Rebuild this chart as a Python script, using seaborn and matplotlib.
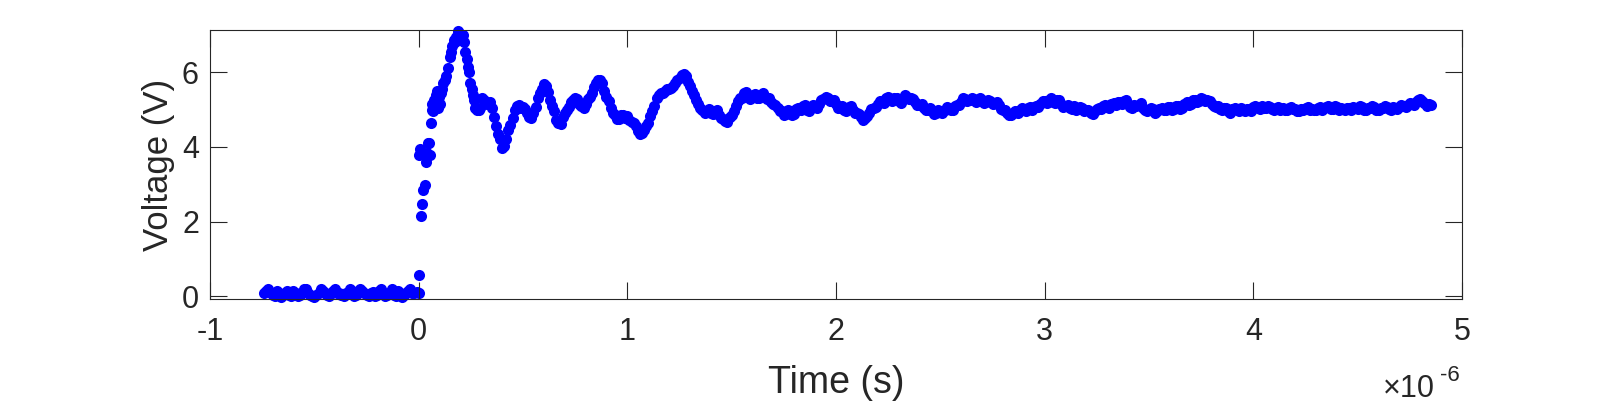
import matplotlib
matplotlib.use("Agg")
import matplotlib.pyplot as plt
import seaborn as sns
import pandas as pd

plt.rcParams['font.family'] = ['Liberation Sans', 'DejaVu Sans']
plt.rcParams['axes.unicode_minus'] = False

# 基线段 (时间单位 us), 两组交错采样
base_t = [-0.74, -0.72, -0.70, -0.68, -0.66, -0.64, -0.62, -0.60, -0.58, -0.56,
          -0.54, -0.52, -0.50, -0.48, -0.46, -0.44, -0.42, -0.40, -0.38, -0.36,
          -0.34, -0.32, -0.30, -0.28, -0.26, -0.24, -0.22, -0.20, -0.18, -0.16,
          -0.14, -0.12, -0.10, -0.08, -0.06, -0.04, -0.02]
base_v = [0.10, 0.20, 0.05, 0.15, -0.02, 0.10, 0.05, 0.15, 0.00, 0.10,
          0.20, 0.05, -0.02, 0.10, 0.15, 0.05, 0.10, 0.20, 0.08, 0.00,
          0.10, 0.15, 0.05, 0.20, 0.10, 0.00, 0.12, 0.05, 0.20, 0.00,
          0.10, 0.05, 0.15, -0.02, 0.10, 0.20, 0.08]
base2_t = [-0.73, -0.71, -0.69, -0.67, -0.65, -0.63, -0.61, -0.59, -0.57, -0.55,
           -0.53, -0.51, -0.49, -0.47, -0.45, -0.43, -0.41, -0.39, -0.37, -0.35,
           -0.33, -0.31, -0.29, -0.27, -0.25, -0.23, -0.21, -0.19, -0.17, -0.15,
           -0.13, -0.11, -0.09, -0.07, -0.05, -0.03, -0.01]
base2_v = [0.15, 0.10, 0.00, 0.10, 0.05, 0.15, 0.00, 0.10, 0.05, 0.20,
           0.10, 0.00, 0.05, 0.20, 0.10, 0.00, 0.15, 0.10, 0.05, 0.10,
           0.20, 0.00, 0.10, 0.15, 0.05, 0.10, 0.00, 0.15, 0.10, 0.05,
           0.20, 0.00, 0.10, 0.05, 0.15, 0.10, 0.12]

# 上升沿
rise_t = [0.000, 0.003, 0.002, 0.008, 0.012, 0.018, 0.022, 0.028, 0.034, 0.040,
          0.044, 0.050, 0.054, 0.058, 0.062, 0.066, 0.070, 0.074, 0.078, 0.082,
          0.086, 0.090, 0.094, 0.098, 0.102, 0.106, 0.112, 0.118, 0.124, 0.130,
          0.140, 0.150, 0.156, 0.162, 0.168, 0.174, 0.180, 0.187, 0.194, 0.200,
          0.206, 0.212, 0.218, 0.224, 0.230, 0.236, 0.242, 0.248, 0.254, 0.260,
          0.266, 0.272, 0.280, 0.288, 0.296, 0.304, 0.312, 0.320, 0.328]
rise_v = [0.10, 0.56, 3.78, 3.95, 2.15, 2.48, 2.85, 2.98, 3.60, 3.85,
          4.10, 4.10, 3.78, 4.65, 5.00, 5.15, 4.95, 5.25, 5.10, 5.40,
          5.20, 5.50, 5.05, 5.35, 5.15, 5.45, 5.55, 5.70, 5.80, 5.90,
          6.10, 6.40, 6.55, 6.70, 6.85, 6.80, 6.95, 7.10, 7.05, 6.95,
          6.85, 7.00, 6.80, 6.55, 6.35, 6.15, 6.00, 5.70, 5.55, 5.40,
          5.25, 5.05, 4.98, 5.00, 5.05, 5.30, 5.25, 5.20, 5.15]

# 振荡及稳态 (第一组)
ring_t = [0.34, 0.36, 0.38, 0.40, 0.42, 0.44, 0.46, 0.48, 0.50, 0.52,
          0.54, 0.56, 0.58, 0.60, 0.62, 0.64, 0.66, 0.68, 0.70, 0.72,
          0.74, 0.76, 0.78, 0.80, 0.82, 0.84, 0.86, 0.88, 0.90, 0.92,
          0.94, 0.96, 0.98, 1.00, 1.02, 1.04, 1.06, 1.08, 1.10, 1.12,
          1.14, 1.16, 1.18, 1.20, 1.22, 1.24, 1.26, 1.28, 1.30, 1.32,
          1.34, 1.36, 1.38, 1.40, 1.42, 1.44, 1.46, 1.48, 1.50, 1.52,
          1.54, 1.56, 1.58, 1.60, 1.62, 1.64, 1.66, 1.68, 1.70, 1.72,
          1.74, 1.76, 1.78, 1.80, 1.82, 1.84, 1.86, 1.88, 1.90, 1.92,
          1.94, 1.96, 1.98, 2.00, 2.02, 2.04, 2.06, 2.08, 2.10, 2.12,
          2.14, 2.16, 2.18, 2.20, 2.22, 2.24, 2.26, 2.28, 2.30, 2.32,
          2.34, 2.36, 2.38, 2.40, 2.42, 2.44, 2.46, 2.48, 2.50, 2.52,
          2.54, 2.56, 2.58, 2.60, 2.62, 2.64, 2.66, 2.68, 2.70, 2.72,
          2.74, 2.76, 2.78, 2.80, 2.82, 2.84, 2.86, 2.88, 2.90, 2.92,
          2.94, 2.96, 2.98, 3.00, 3.02, 3.04, 3.06, 3.08, 3.10, 3.12,
          3.14, 3.16, 3.18, 3.20, 3.22, 3.24, 3.26, 3.28, 3.30, 3.32,
          3.34, 3.36, 3.38, 3.40, 3.42, 3.44, 3.46, 3.48, 3.50, 3.52,
          3.54, 3.56, 3.58, 3.60, 3.62, 3.64, 3.66, 3.68, 3.70, 3.72,
          3.74, 3.76, 3.78, 3.80, 3.82, 3.84, 3.86, 3.88, 3.90, 3.92,
          3.94, 3.96, 3.98, 4.00, 4.02, 4.04, 4.06, 4.08, 4.10, 4.12,
          4.14, 4.16, 4.18, 4.20, 4.22, 4.24, 4.26, 4.28, 4.30, 4.32,
          4.34, 4.36, 4.38, 4.40, 4.42, 4.44, 4.46, 4.48, 4.50, 4.52,
          4.54, 4.56, 4.58, 4.60, 4.62, 4.64, 4.66, 4.68, 4.70, 4.72,
          4.74, 4.76, 4.78, 4.80, 4.82, 4.84, 4.85]
ring_v = [5.20, 4.80, 4.35, 3.98, 4.20, 4.60, 5.00, 5.12, 5.08, 4.90,
          4.78, 5.08, 5.45, 5.68, 5.48, 5.10, 4.72, 4.62, 4.92, 5.08,
          5.25, 5.28, 5.10, 5.15, 5.35, 5.60, 5.80, 5.70, 5.35, 5.05,
          4.85, 4.75, 4.85, 4.82, 4.68, 4.55, 4.35, 4.45, 4.65, 4.95,
          5.30, 5.45, 5.50, 5.55, 5.62, 5.78, 5.92, 5.90, 5.62, 5.40,
          5.15, 5.00, 4.95, 4.92, 4.95, 4.85, 4.75, 4.68, 4.85, 5.10,
          5.30, 5.45, 5.35, 5.38, 5.32, 5.40, 5.35, 5.30, 5.15, 5.05,
          4.95, 4.88, 4.95, 4.88, 5.05, 5.10, 5.00, 5.05, 5.10, 5.15,
          5.28, 5.30, 5.22, 5.15, 5.05, 5.00, 5.08, 4.98, 4.90, 4.80,
          4.78, 4.92, 5.05, 5.15, 5.20, 5.30, 5.25, 5.30, 5.22, 5.28,
          5.35, 5.30, 5.20, 5.12, 5.05, 5.00, 4.95, 4.92, 4.95, 5.00,
          5.05, 5.00, 5.12, 5.20, 5.28, 5.25, 5.28, 5.22, 5.25, 5.20,
          5.22, 5.18, 5.12, 5.00, 4.92, 4.85, 4.95, 5.00, 4.98, 5.05,
          5.00, 5.10, 5.15, 5.22, 5.25, 5.20, 5.25, 5.15, 5.10, 5.05,
          5.10, 5.02, 5.05, 4.98, 4.92, 4.95, 5.05, 5.10, 5.08, 5.15,
          5.12, 5.20, 5.22, 5.15, 5.05, 5.10, 5.18, 5.00, 4.98, 5.02,
          4.95, 5.05, 5.00, 5.08, 5.02, 5.10, 5.05, 5.20, 5.15, 5.25,
          5.22, 5.28, 5.25, 5.15, 5.08, 5.02, 5.05, 4.95, 5.02, 4.98,
          5.05, 4.95, 5.02, 5.08, 5.05, 5.10, 5.05, 5.08, 5.00, 5.08,
          5.05, 4.98, 5.08, 5.02, 4.95, 5.00, 5.08, 5.02, 4.98, 5.08,
          5.05, 5.10, 5.02, 5.08, 5.05, 4.98, 5.05, 5.08, 5.02, 5.08,
          5.00, 5.05, 5.08, 4.98, 5.05, 5.08, 5.00, 5.05, 5.08, 5.10,
          5.12, 5.15, 5.20, 5.28, 5.18, 5.15, 5.12]

# 振荡及稳态 (第二组, 交错)
ring2_t = [0.35, 0.37, 0.39, 0.41, 0.43, 0.45, 0.47, 0.49, 0.51, 0.53,
           0.55, 0.57, 0.59, 0.61, 0.63, 0.65, 0.67, 0.69, 0.71, 0.73,
           0.75, 0.77, 0.79, 0.81, 0.83, 0.85, 0.87, 0.89, 0.91, 0.93,
           0.95, 0.97, 0.99, 1.01, 1.03, 1.05, 1.07, 1.09, 1.11, 1.13,
           1.15, 1.17, 1.19, 1.21, 1.23, 1.25, 1.27, 1.29, 1.31, 1.33,
           1.35, 1.37, 1.39, 1.41, 1.43, 1.45, 1.47, 1.49, 1.51, 1.53,
           1.55, 1.57, 1.59, 1.61, 1.63, 1.65, 1.67, 1.69, 1.71, 1.73,
           1.75, 1.77, 1.79, 1.81, 1.83, 1.85, 1.87, 1.89, 1.91, 1.93,
           1.95, 1.97, 1.99, 2.01, 2.03, 2.05, 2.07, 2.09, 2.11, 2.13,
           2.15, 2.17, 2.19, 2.21, 2.23, 2.25, 2.27, 2.29, 2.31, 2.33,
           2.35, 2.37, 2.39, 2.41, 2.43, 2.45, 2.47, 2.49, 2.51, 2.53,
           2.55, 2.57, 2.59, 2.61, 2.63, 2.65, 2.67, 2.69, 2.71, 2.73,
           2.75, 2.77, 2.79, 2.81, 2.83, 2.85, 2.87, 2.89, 2.91, 2.93,
           2.95, 2.97, 2.99, 3.01, 3.03, 3.05, 3.07, 3.09, 3.11, 3.13,
           3.15, 3.17, 3.19, 3.21, 3.23, 3.25, 3.27, 3.29, 3.31, 3.33,
           3.35, 3.37, 3.39, 3.41, 3.43, 3.45, 3.47, 3.49, 3.51, 3.53,
           3.55, 3.57, 3.59, 3.61, 3.63, 3.65, 3.67, 3.69, 3.71, 3.73,
           3.75, 3.77, 3.79, 3.81, 3.83, 3.85, 3.87, 3.89, 3.91, 3.93,
           3.95, 3.97, 3.99, 4.01, 4.03, 4.05, 4.07, 4.09, 4.11, 4.13,
           4.15, 4.17, 4.19, 4.21, 4.23, 4.25, 4.27, 4.29, 4.31, 4.33,
           4.35, 4.37, 4.39, 4.41, 4.43, 4.45, 4.47, 4.49, 4.51, 4.53,
           4.55, 4.57, 4.59, 4.61, 4.63, 4.65, 4.67, 4.69, 4.71, 4.73,
           4.75, 4.77, 4.79, 4.81, 4.83]
ring2_v = [5.05, 4.55, 4.20, 4.02, 4.45, 4.78, 5.10, 5.05, 5.02, 4.80,
           4.90, 5.30, 5.55, 5.62, 5.25, 4.95, 4.65, 4.80, 4.98, 5.20,
           5.30, 5.15, 5.05, 5.28, 5.45, 5.72, 5.78, 5.50, 5.22, 4.92,
           4.75, 4.85, 4.78, 4.72, 4.65, 4.42, 4.38, 4.55, 4.82, 5.10,
           5.40, 5.45, 5.55, 5.58, 5.72, 5.85, 5.95, 5.75, 5.50, 5.25,
           5.05, 4.92, 5.02, 4.88, 4.98, 4.78, 4.70, 4.80, 4.95, 5.22,
           5.32, 5.48, 5.28, 5.42, 5.30, 5.45, 5.28, 5.20, 5.12, 4.95,
           4.85, 4.98, 4.85, 5.02, 5.00, 5.12, 4.95, 5.12, 5.05, 5.25,
           5.35, 5.22, 5.25, 5.05, 5.10, 4.95, 5.10, 4.90, 4.88, 4.72,
           4.82, 5.02, 5.08, 5.22, 5.18, 5.35, 5.22, 5.32, 5.18, 5.38,
           5.28, 5.28, 5.12, 5.15, 4.98, 5.05, 4.88, 5.00, 4.92, 5.08,
           4.98, 5.10, 5.12, 5.30, 5.22, 5.32, 5.20, 5.30, 5.18, 5.26,
           5.15, 5.20, 5.02, 5.00, 4.85, 4.92, 4.92, 5.05, 4.95, 5.08,
           5.08, 5.08, 5.22, 5.18, 5.30, 5.18, 5.25, 5.08, 5.12, 5.02,
           5.00, 5.08, 4.95, 5.00, 4.88, 5.02, 5.02, 5.12, 5.05, 5.18,
           5.20, 5.15, 5.25, 5.08, 5.12, 5.12, 5.05, 4.95, 5.05, 4.92,
           5.02, 4.98, 5.08, 5.00, 5.10, 5.02, 5.15, 5.12, 5.25, 5.20,
           5.30, 5.22, 5.22, 5.10, 5.10, 4.98, 5.05, 4.92, 5.05, 4.95,
           4.98, 5.02, 4.95, 5.10, 5.02, 5.05, 5.10, 5.02, 5.05, 5.00,
           5.00, 5.05, 5.02, 4.95, 5.02, 5.05, 4.98, 5.00, 5.05, 4.98,
           5.08, 5.02, 5.10, 5.00, 5.02, 5.05, 5.00, 5.05, 5.10, 4.98,
           5.05, 5.10, 5.00, 5.05, 5.10, 5.02, 5.08, 5.02, 5.12, 5.08,
           5.18, 5.12, 5.25, 5.22, 5.10]

xticks = [-1, 0, 1, 2, 3, 4, 5]
yticks = [0, 2, 4, 6]

df = pd.DataFrame({
    "t": base_t + base2_t + rise_t + ring_t + ring2_t,
    "v": base_v + base2_v + rise_v + ring_v + ring2_v,
})

fig = plt.figure(figsize=(16.17, 4.04), dpi=100)
ax = fig.add_axes([210 / 1617, 1 - 299 / 404, 1252 / 1617, 269 / 404])
sns.scatterplot(data=df, x="t", y="v", ax=ax, color="#0000ff", s=64,
                linewidth=0, clip_on=False, legend=False)

ax.set_xlim(-1, 5)
ax.set_ylim(-0.07, 7.13)
ax.set_xticks(xticks)
ax.set_yticks(yticks)
ax.tick_params(direction="in", length=12, width=0.8, top=True, right=True,
               color="#262626", labelcolor="#262626", labelsize=22)
ax.tick_params(axis="x", pad=13)
ax.tick_params(axis="y", pad=8)
for sp in ax.spines.values():
    sp.set_color("#262626")
    sp.set_linewidth(0.8)

ax.set_xlabel("Time (s)", fontsize=27, color="#262626", labelpad=13)
ax.set_ylabel("Voltage (V)", fontsize=25, color="#262626", labelpad=5)

# 指数标记
fig.text(1383 / 1617, 1 - 397 / 404, "×10", fontsize=22, color="#262626",
         ha="left", va="baseline")
fig.text(1440 / 1617, 1 - 381 / 404, "-6", fontsize=16, color="#262626",
         ha="left", va="baseline")

plt.savefig("out.png", dpi=100)
